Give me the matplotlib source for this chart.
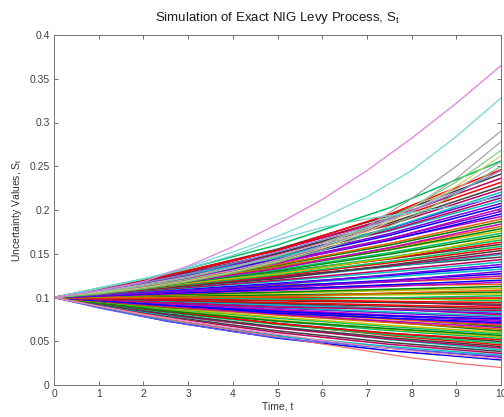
import matplotlib
matplotlib.use("Agg")
import matplotlib.pyplot as plt

plt.rcParams['font.family'] = ['Liberation Sans', 'DejaVu Sans']
plt.rcParams['mathtext.default'] = 'regular'

# time grids
BAND_T = [0, 2.5, 5, 7.5, 10]
OUT_T = [0, 1, 2, 3, 4, 5, 6, 7, 8, 9, 10]

# bulk of simulated paths (values at BAND_T)
BAND_PATHS = [
    [0.1, 0.0732, 0.0535, 0.0392, 0.0287],
    [0.1, 0.0750, 0.0563, 0.0422, 0.0317],
    [0.1, 0.0745, 0.0560, 0.0440, 0.0340],
    [0.1, 0.0775, 0.0600, 0.0465, 0.0361],
    [0.1, 0.0787, 0.0619, 0.0487, 0.0383],
    [0.1, 0.0797, 0.0660, 0.0520, 0.0402],
    [0.1, 0.0807, 0.0650, 0.0525, 0.0423],
    [0.1, 0.0815, 0.0664, 0.0541, 0.0440],
    [0.1, 0.0840, 0.0700, 0.0565, 0.0458],
    [0.1, 0.0831, 0.0691, 0.0574, 0.0477],
    [0.1, 0.0839, 0.0705, 0.0592, 0.0497],
    [0.1, 0.0848, 0.0700, 0.0590, 0.0517],
    [0.1, 0.0854, 0.0730, 0.0623, 0.0533],
    [0.1, 0.0861, 0.0741, 0.0638, 0.0549],
    [0.1, 0.0850, 0.0730, 0.0645, 0.0566],
    [0.1, 0.0874, 0.0763, 0.0667, 0.0583],
    [0.1, 0.0880, 0.0775, 0.0682, 0.0600],
    [0.1, 0.0887, 0.0810, 0.0720, 0.0619],
    [0.1, 0.0894, 0.0799, 0.0714, 0.0638],
    [0.1, 0.0900, 0.0811, 0.0730, 0.0657],
    [0.1, 0.0930, 0.0850, 0.0760, 0.0670],
    [0.1, 0.0909, 0.0827, 0.0752, 0.0684],
    [0.1, 0.0914, 0.0835, 0.0763, 0.0698],
    [0.1, 0.0919, 0.0820, 0.0765, 0.0712],
    [0.1, 0.0923, 0.0852, 0.0787, 0.0726],
    [0.1, 0.0928, 0.0861, 0.0799, 0.0741],
    [0.1, 0.0910, 0.0840, 0.0790, 0.0756],
    [0.1, 0.0937, 0.0878, 0.0823, 0.0771],
    [0.1, 0.0942, 0.0887, 0.0835, 0.0787],
    [0.1, 0.0946, 0.0930, 0.0870, 0.0803],
    [0.1, 0.0951, 0.0905, 0.0861, 0.0819],
    [0.1, 0.0956, 0.0914, 0.0874, 0.0835],
    [0.1, 0.0940, 0.0890, 0.0870, 0.0852],
    [0.1, 0.0966, 0.0932, 0.0900, 0.0869],
    [0.1, 0.0970, 0.0942, 0.0914, 0.0887],
    [0.1, 0.0975, 0.0985, 0.0950, 0.0905],
    [0.1, 0.0980, 0.0961, 0.0942, 0.0923],
    [0.1, 0.0985, 0.0970, 0.0956, 0.0942],
    [0.1, 0.1010, 0.1010, 0.0990, 0.0961],
    [0.1, 0.0995, 0.0990, 0.0985, 0.0980],
    [0.1, 0.1000, 0.1000, 0.1000, 0.1000],
    [0.1, 0.1005, 0.0980, 0.0995, 0.1020],
    [0.1, 0.1010, 0.1020, 0.1030, 0.1041],
    [0.1, 0.1015, 0.1030, 0.1046, 0.1062],
    [0.1, 0.1000, 0.1010, 0.1050, 0.1083],
    [0.1, 0.1025, 0.1051, 0.1078, 0.1105],
    [0.1, 0.1030, 0.1062, 0.1094, 0.1127],
    [0.1, 0.1036, 0.1100, 0.1140, 0.1150],
    [0.1, 0.1041, 0.1083, 0.1127, 0.1174],
    [0.1, 0.1046, 0.1094, 0.1145, 0.1197],
    [0.1, 0.1070, 0.1140, 0.1180, 0.1221],
    [0.1, 0.1057, 0.1116, 0.1179, 0.1246],
    [0.1, 0.1062, 0.1127, 0.1197, 0.1271],
    [0.1, 0.1067, 0.1110, 0.1190, 0.1297],
    [0.1, 0.1073, 0.1150, 0.1234, 0.1323],
    [0.1, 0.1078, 0.1162, 0.1252, 0.1350],
    [0.1, 0.1065, 0.1150, 0.1260, 0.1377],
    [0.1, 0.1089, 0.1185, 0.1290, 0.1405],
    [0.1, 0.1094, 0.1197, 0.1310, 0.1433],
    [0.1, 0.1100, 0.1240, 0.1355, 0.1462],
    [0.1, 0.1105, 0.1221, 0.1350, 0.1492],
    [0.1, 0.1108, 0.1228, 0.1360, 0.1507],
    [0.1, 0.1113, 0.1215, 0.1370, 0.1537],
    [0.1, 0.1118, 0.1249, 0.1396, 0.1561],
    [0.1, 0.1122, 0.1259, 0.1412, 0.1584],
    [0.1, 0.1145, 0.1295, 0.1440, 0.1608],
    [0.1, 0.1130, 0.1278, 0.1444, 0.1632],
    [0.1, 0.1135, 0.1287, 0.1460, 0.1657],
    [0.1, 0.1139, 0.1270, 0.1450, 0.1682],
    [0.1, 0.1143, 0.1307, 0.1494, 0.1707],
    [0.1, 0.1147, 0.1317, 0.1511, 0.1733],
    [0.1, 0.1152, 0.1355, 0.1545, 0.1759],
    [0.1, 0.1156, 0.1336, 0.1545, 0.1786],
    [0.1, 0.1160, 0.1347, 0.1563, 0.1813],
    [0.1, 0.1145, 0.1330, 0.1570, 0.1840],
    [0.1, 0.1169, 0.1367, 0.1598, 0.1868],
    [0.1, 0.1174, 0.1377, 0.1616, 0.1896],
    [0.1, 0.1178, 0.1415, 0.1660, 0.1925],
    [0.1, 0.1182, 0.1398, 0.1653, 0.1954],
    [0.1, 0.1187, 0.1409, 0.1672, 0.1984],
    [0.1, 0.1191, 0.1390, 0.1670, 0.2014],
    [0.1, 0.1196, 0.1430, 0.1710, 0.2044],
    [0.1, 0.1200, 0.1441, 0.1729, 0.2075],
    [0.1, 0.1225, 0.1480, 0.1760, 0.2107],
    [0.1, 0.1209, 0.1462, 0.1768, 0.2138],
    [0.1, 0.1214, 0.1473, 0.1788, 0.2171],
    [0.1, 0.1218, 0.1455, 0.1790, 0.2203],
    [0.1, 0.1223, 0.1496, 0.1829, 0.2237],
    [0.1, 0.1228, 0.1507, 0.1850, 0.2271],
    [0.1, 0.1234, 0.1545, 0.1885, 0.2316],
    [0.1, 0.1240, 0.1537, 0.1906, 0.2363],
    [0.1, 0.1246, 0.1553, 0.1935, 0.2411],
    [0.1, 0.1252, 0.1540, 0.1950, 0.2460],
    [0.1, 0.1265, 0.1600, 0.2024, 0.2560],
]

# distinct outlying paths (values at OUT_T)
PATH_MAGENTA = [0.1, 0.108, 0.118, 0.136, 0.158, 0.184, 0.212, 0.245, 0.282, 0.322, 0.365]
PATH_CYAN_TOP = [0.1, 0.111, 0.121, 0.135, 0.152, 0.170, 0.191, 0.215, 0.245, 0.284, 0.328]
PATH_CYAN_MID = [0.1, 0.110, 0.121, 0.133, 0.148, 0.166, 0.180, 0.190, 0.197, 0.205, 0.215]
PATH_GREY_A = [0.1, 0.105, 0.111, 0.119, 0.129, 0.142, 0.159, 0.181, 0.213, 0.250, 0.290]
PATH_GREY_B = [0.1, 0.106, 0.113, 0.121, 0.131, 0.143, 0.158, 0.177, 0.202, 0.236, 0.278]
PATH_GREEN_C = [0.1, 0.106, 0.114, 0.123, 0.134, 0.147, 0.162, 0.180, 0.203, 0.232, 0.268]
PATH_YELLOW_D = [0.1, 0.105, 0.111, 0.119, 0.129, 0.141, 0.156, 0.175, 0.198, 0.227, 0.262]
PATH_GREY_E = [0.1, 0.107, 0.115, 0.124, 0.135, 0.148, 0.162, 0.178, 0.199, 0.224, 0.255]
PATH_GREEN_F = [0.1, 0.104, 0.110, 0.118, 0.128, 0.140, 0.154, 0.171, 0.192, 0.218, 0.250]
PATH_BLUE_G = [0.1, 0.108, 0.117, 0.127, 0.139, 0.152, 0.166, 0.181, 0.199, 0.220, 0.245]
PATH_RED_LOW = [0.1, 0.090, 0.080, 0.071, 0.063, 0.055, 0.047, 0.039, 0.031, 0.025, 0.020]
PATH_BLUE_LOW = [0.1, 0.088, 0.078, 0.069, 0.061, 0.054, 0.049, 0.044, 0.040, 0.036, 0.033]
PATH_PINK_LOW = [0.1, 0.090, 0.081, 0.073, 0.065, 0.058, 0.051, 0.045, 0.039, 0.034, 0.030]

X_TICKS = [0, 1, 2, 3, 4, 5, 6, 7, 8, 9, 10]
Y_TICKS = [0, 0.05, 0.1, 0.15, 0.2, 0.25, 0.3, 0.35, 0.4]
Y_TICK_LABELS = ['0', '0.05', '0.1', '0.15', '0.2', '0.25', '0.3', '0.35', '0.4']

PALETTE = ['#0000ff', '#008000', '#ff0000', '#00bfbf', '#bf00bf', '#bfbf00',
           '#404040', '#7a00e0', '#e06000', '#00c060', '#c00060']

fig = plt.figure(figsize=(5.04, 4.17), dpi=100)
ax = fig.add_axes([54 / 504, 32 / 417, 447 / 504, 350 / 417])

for i, p in enumerate(BAND_PATHS):
    ax.plot(BAND_T, p, color=PALETTE[(i * 7 + i // 5) % len(PALETTE)], lw=1.1)

outliers = [
    (PATH_GREY_A, '#a0a0a0'), (PATH_GREY_B, '#a8a8a8'), (PATH_GREEN_C, '#80d080'),
    (PATH_YELLOW_D, '#d0d070'), (PATH_GREY_E, '#b0b0b0'), (PATH_GREEN_F, '#70c070'),
    (PATH_BLUE_G, '#8080e0'), (PATH_CYAN_MID, '#70d0d0'), (PATH_CYAN_TOP, '#70d8d8'),
    (PATH_MAGENTA, '#e080e0'), (PATH_RED_LOW, '#f07070'), (PATH_BLUE_LOW, '#6060f0'),
    (PATH_PINK_LOW, '#f090b0'),
]
for p, c in outliers:
    ax.plot(OUT_T, p, color=c, lw=0.9)

ax.set_xlim(0, 10)
ax.set_ylim(0, 0.4)
ax.set_xticks(X_TICKS)
ax.set_xticklabels([str(x) for x in X_TICKS])
ax.set_yticks(Y_TICKS)
ax.set_yticklabels(Y_TICK_LABELS)
ax.tick_params(direction='in', top=True, right=True, length=3, width=0.6,
               color='0.35', labelcolor='0.25', labelsize=7.5, pad=3)
for s in ax.spines.values():
    s.set_color('0.45')
    s.set_linewidth(0.7)

ax.set_title('Simulation of Exact NIG Levy Process, S$_\\mathregular{t}$',
             fontsize=9.5, color='0.1', pad=10)
ax.set_xlabel('Time, t', fontsize=7.5, color='0.2', labelpad=2)
ax.set_ylabel('Uncertainty Values, S$_\\mathregular{t}$', fontsize=7.5, color='0.2', labelpad=4)

fig.savefig('out.png', dpi=100)
